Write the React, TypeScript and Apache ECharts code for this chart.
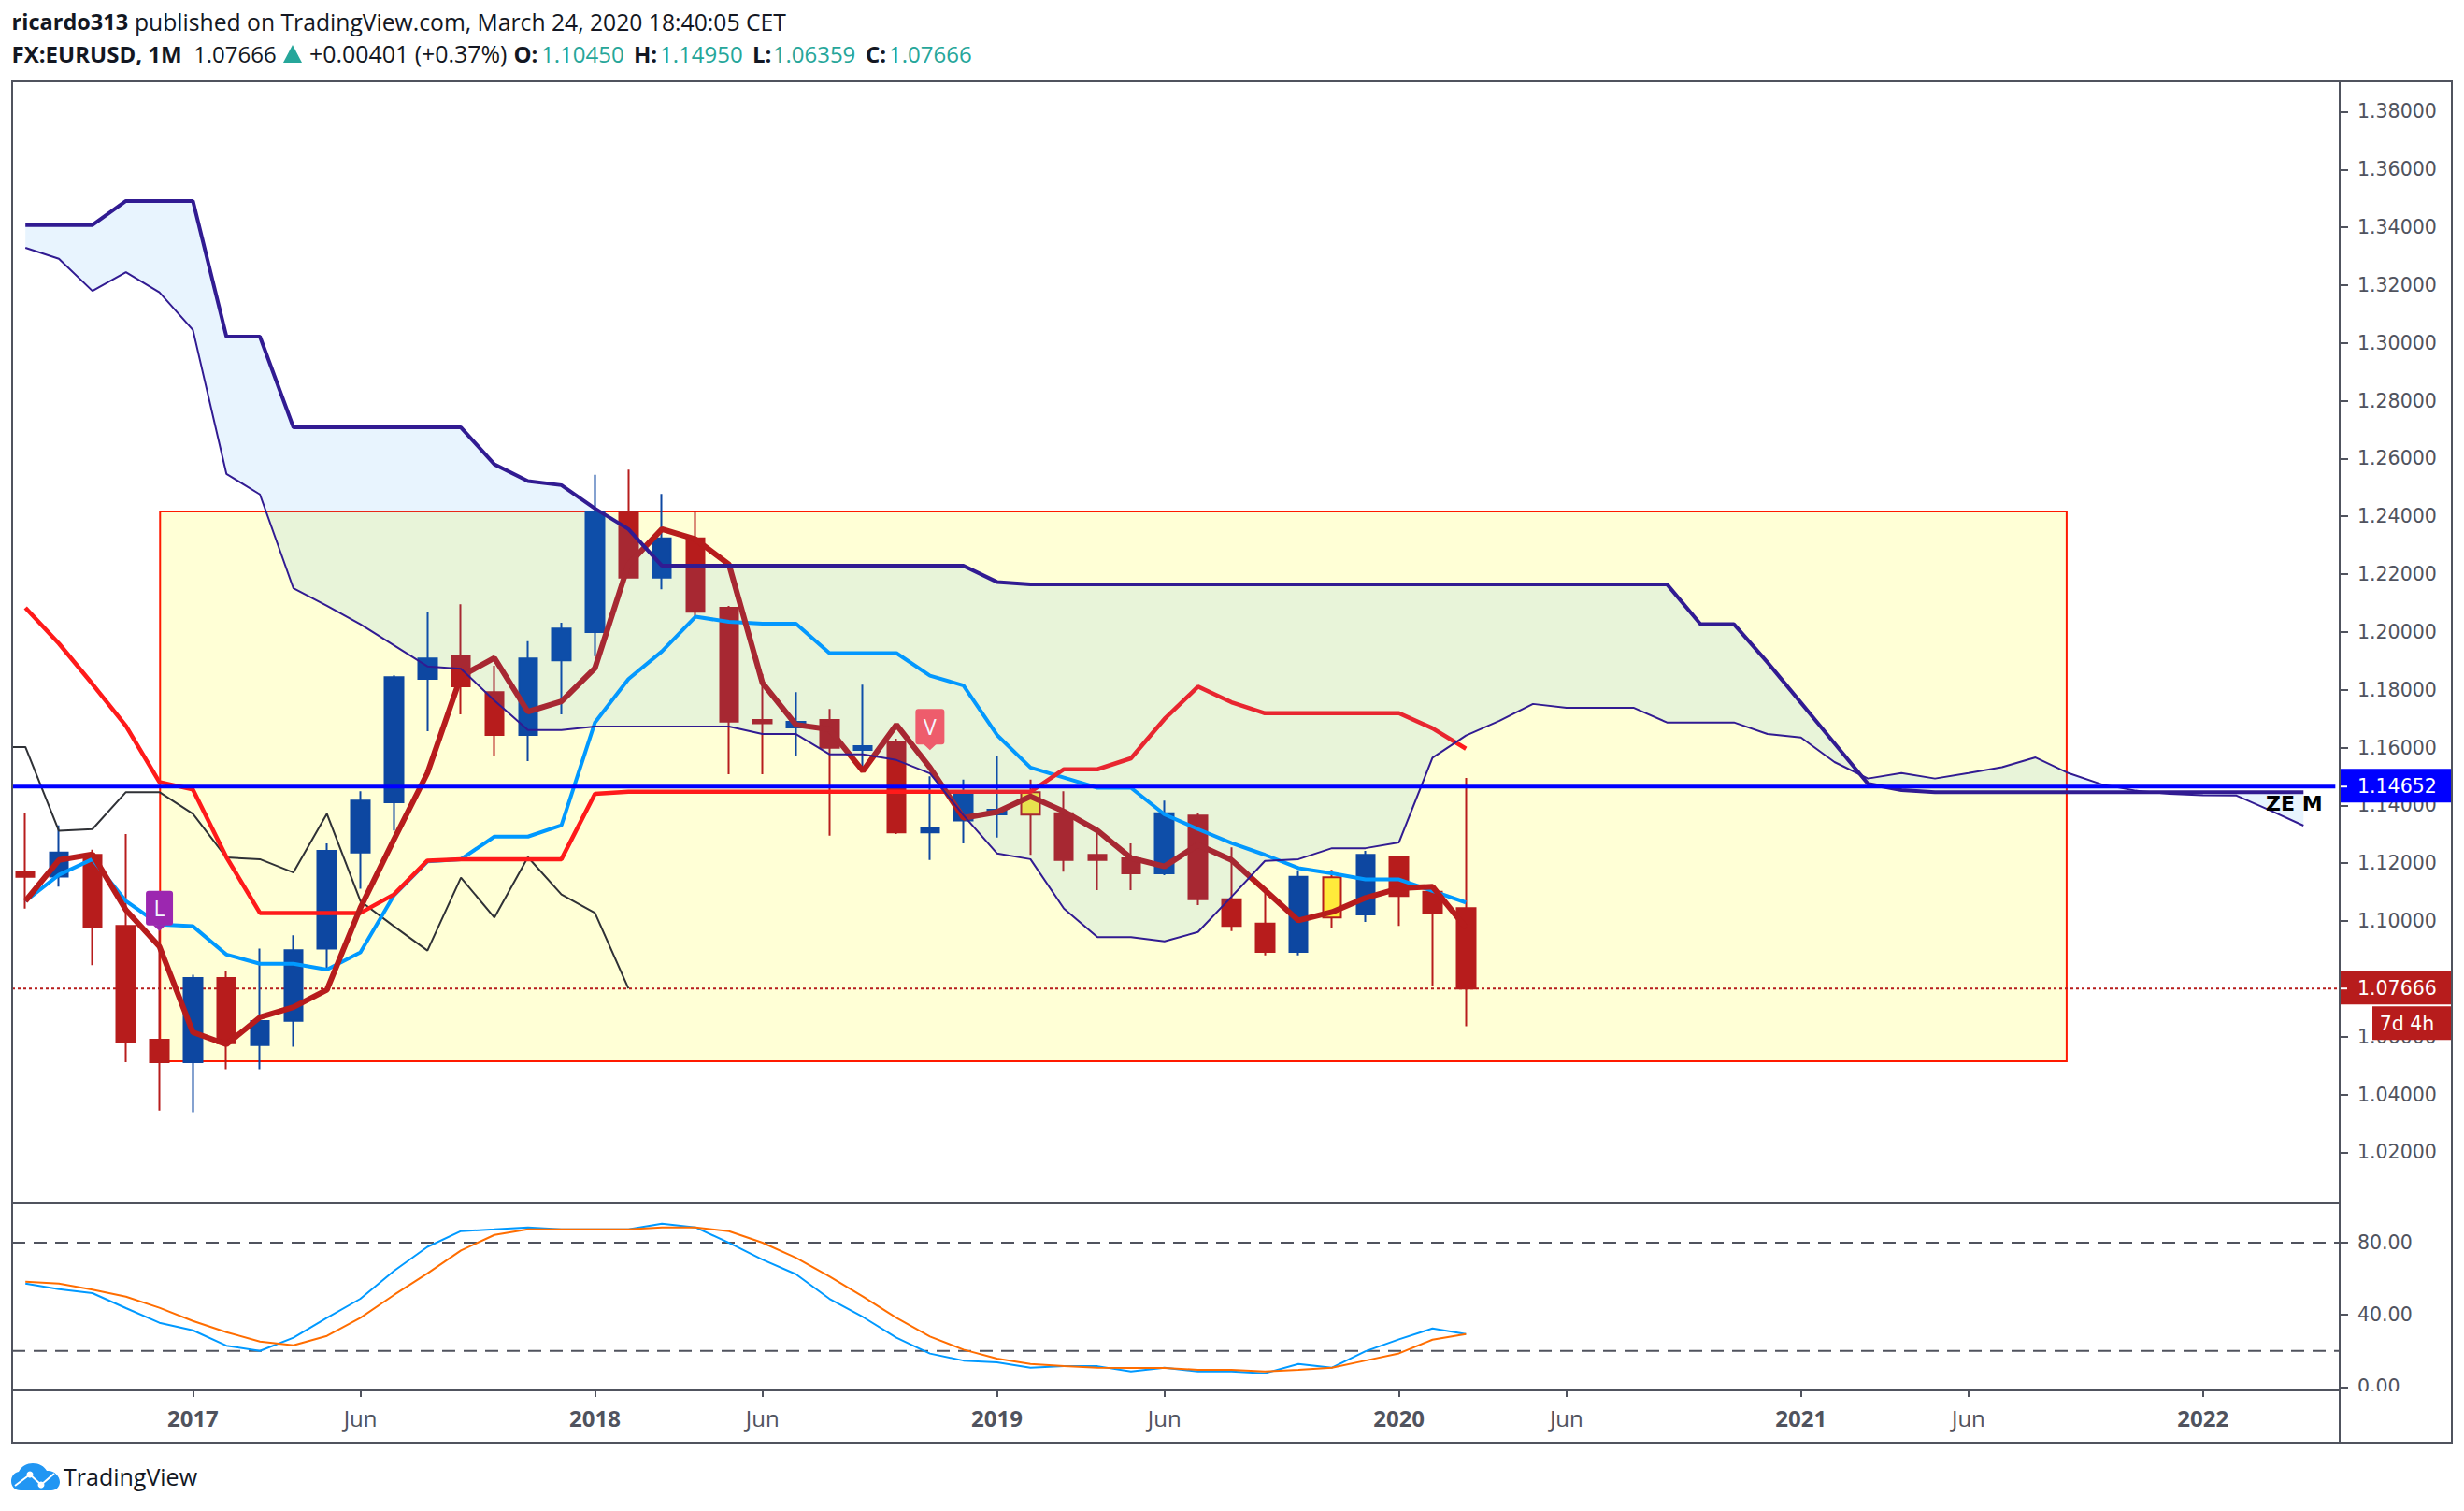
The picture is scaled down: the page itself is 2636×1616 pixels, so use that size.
import React, { useEffect, useRef } from "react";
import * as echarts from "echarts";

const opens = [1.1171,1.1154,1.1229,1.0983,1.0589,1.0512,1.0803,1.0571,1.0655,1.0905,1.1237,1.1411,1.1838,1.1916,1.1792,1.1644,1.1902,1.2000,1.2417,1.2188,1.2324,1.2084,1.1696,1.1670,1.1696,1.1592,1.1618,1.1307,1.1348,1.1369,1.1446,1.1373,1.1229,1.1217,1.1165,1.1365,1.1075,1.0991,1.0893,1.1151,1.1023,1.1223,1.1101,1.1045];
const closes = [1.1153,1.1237,1.0979,1.0583,1.0512,1.0803,1.0577,1.0654,1.0899,1.1243,1.1417,1.1844,1.1908,1.1812,1.1644,1.1908,1.2012,1.2417,1.2188,1.2324,1.2070,1.1690,1.1684,1.1689,1.1599,1.1605,1.1307,1.1321,1.1443,1.1385,1.1368,1.1211,1.1211,1.1165,1.1373,1.1075,1.0983,1.0893,1.1153,1.1012,1.1229,1.1087,1.1029,1.07666];
const lows = [1.1043,1.1119,1.0847,1.0512,1.0344,1.0339,1.0487,1.0487,1.0565,1.0835,1.1112,1.1313,1.1657,1.1715,1.1573,1.1553,1.1715,1.1916,1.2188,1.2148,1.2053,1.1508,1.1508,1.1573,1.1295,1.1534,1.1301,1.1211,1.1269,1.1289,1.1229,1.1171,1.1107,1.1107,1.1159,1.1055,1.0965,1.0881,1.0881,1.0977,1.0997,1.0983,1.0777,1.06359];
const highs = [1.1373,1.1331,1.1247,1.1301,1.0969,1.0814,1.0827,1.0905,1.0951,1.1269,1.1449,1.1850,1.2070,1.2096,1.1883,1.1968,1.2032,1.2544,1.2562,1.2478,1.2417,1.2090,1.1855,1.1792,1.1734,1.1818,1.1631,1.1501,1.1489,1.1573,1.1489,1.1449,1.1327,1.1269,1.1417,1.1373,1.1255,1.1099,1.1176,1.1177,1.1243,1.1223,1.1101,1.1495];
const highlighted = [30, 39];

const tenkanBlue = [1.1069,1.1160,1.1214,1.1069,1.0988,1.0982,1.0884,1.0852,1.0852,1.0832,1.0892,1.1089,1.1206,1.1214,1.1292,1.1292,1.1331,1.1687,1.1837,1.1933,1.2053,1.2035,1.2029,1.2029,1.1927,1.1927,1.1927,1.1849,1.1815,1.1644,1.1531,1.1496,1.1461,1.1461,1.1369,1.1318,1.1270,1.1229,1.1183,1.1165,1.1144,1.1144,1.1104,1.1064];
const kijunRed = [1.2084,1.1960,1.1820,1.1675,1.1481,1.1455,1.1221,1.1028,1.1028,1.1028,1.1028,1.1092,1.1209,1.1214,1.1214,1.1214,1.1214,1.1440,1.1447,1.1447,1.1447,1.1447,1.1447,1.1447,1.1447,1.1447,1.1447,1.1447,1.1447,1.1447,1.1447,1.1525,1.1525,1.1563,1.1699,1.1811,1.1757,1.1719,1.1719,1.1719,1.1719,1.1719,1.1667,1.1596];
const fastBrown = [1.1069,1.1211,1.1231,1.1038,1.0912,1.0615,1.0573,1.0667,1.0702,1.0762,1.1046,1.1282,1.1512,1.1847,1.1910,1.1724,1.1760,1.1875,1.2234,1.2356,1.2321,1.2234,1.1824,1.1679,1.1663,1.1519,1.1679,1.1531,1.1357,1.1377,1.1431,1.1379,1.1313,1.1218,1.1189,1.1264,1.1211,1.1107,1.1002,1.1031,1.1080,1.1113,1.1119,1.0977];
const senkouA = [1.3329,1.3291,1.3180,1.3245,1.3175,1.3045,1.2547,1.2476,1.2151,1.2091,1.2027,1.1954,1.1881,1.1873,1.1763,1.1661,1.1661,1.1673,1.1673,1.1673,1.1673,1.1673,1.1647,1.1647,1.1577,1.1577,1.1557,1.1511,1.1366,1.1234,1.1214,1.1043,1.0944,1.0944,1.0930,1.0962,1.1084,1.1208,1.1214,1.1252,1.1252,1.1272,1.1565,1.1642,1.1693,1.1751,1.1738,1.1738,1.1738,1.1687,1.1687,1.1687,1.1647,1.1635,1.1550,1.1493,1.1512,1.1493,1.1512,1.1532,1.1566,1.1511,1.1472,1.1451,1.1440,1.1435,1.1434,1.1383,1.1330];
const senkouB = [1.3408,1.3408,1.3408,1.3491,1.3491,1.3491,1.3022,1.3022,1.2708,1.2708,1.2708,1.2708,1.2708,1.2708,1.2580,1.2522,1.2508,1.2427,1.2356,1.2229,1.2229,1.2229,1.2229,1.2229,1.2229,1.2229,1.2229,1.2229,1.2229,1.2173,1.2165,1.2165,1.2165,1.2165,1.2165,1.2165,1.2165,1.2165,1.2165,1.2165,1.2165,1.2165,1.2165,1.2165,1.2165,1.2165,1.2165,1.2165,1.2165,1.2165,1.2027,1.2027,1.1895,1.1755,1.1615,1.1475,1.1453,1.1446,1.1446,1.1446,1.1446,1.1446,1.1446,1.1446,1.1446,1.1446,1.1446,1.1446,1.1446];
const chikou = [1.1602,1.1602,1.1312,1.1318,1.1446,1.1446,1.1371,1.1220,1.1214,1.1168,1.1371,1.1069,1.0982,1.0898,1.1150,1.1012,1.1221,1.1092,1.1028,1.0767];
const stochK = [57.3,54.2,52,43.7,35.6,31.4,22.9,20,27.3,38.3,48.9,64.3,77.7,86.4,87.4,88.5,87.4,87.4,87.4,90.5,88.5,80,70.6,62.5,48.9,38.8,27.3,18.5,14.6,13.6,10.7,11.5,11.5,8.6,10.7,8.6,8.6,7.6,12.7,10.7,19.8,26.4,32.4,29.3];
const stochD = [58.4,57.3,54,50.1,43.9,36.6,30.4,25.2,23.1,28.3,38.3,51,63,75.7,84.3,87.4,87.4,87.4,87.4,88.5,88.5,86.4,80,71.7,61.3,50.1,38.3,28,20.7,15.7,12.7,11.5,10.7,10.5,10.5,9.5,9.5,8.6,9.5,10.7,14.6,18.6,26.2,29.3];

const priceTicks = [1.02,1.04,1.06,1.08,1.10,1.12,1.14,1.16,1.18,1.20,1.22,1.24,1.26,1.28,1.30,1.32,1.34,1.36,1.38];
const stochTicks = [0, 40, 80];
const stochBands = [80, 20];
const timeTickIdx = [5,10,17,22,29,34,41,46,53,58,65];
const timeTickText = ["2017","Jun","2018","Jun","2019","Jun","2020","Jun","2021","Jun","2022"];

const lastClose = 1.07666;
const levelLine = 1.14652;
const zoneBox = [4.02, 1.2417, 60.93, 1.0515];
const signalIdx = [4, 27];
const signalPrice = [1.0965, 1.1591];
const signalText = ["L", "V"];
const signalColor = ["#9c27b0", "#ee5c6c"];
const tagPrices = [levelLine, lastClose];
const tagTexts = ["1.14652", "1.07666"];
const tagColors = ["#0000ff", "#b71c1c"];

const X_MIN = -0.396;
const X_MAX = 69.08;
const BLUE = "#0d47a1";
const RED = "#b71c1c";
const YELLOW = "#ffeb3b";
const AXIS = "#50535e";
const INK = "#131722";
const GREEN = "#26a69a";
const AXIS_FONT = '20.5px "DejaVu Sans"';
const HEAD = '"Open Sans"';

echarts.graphic.registerShape(
  "tvCloud",
  echarts.graphic.extendPath(
    "M22 1594 C16 1594 12 1590 12 1584 C12 1579 15 1575 20 1574 C23 1568 29 1565 35 1565 C42 1565 47 1568 50 1573 C57 1572 64 1578 64 1585 C64 1590 60 1594 55 1594 Z",
    {}
  )
);

const indexed = (vals: number[], start = 0) => vals.map((v, i) => [i + start, v]);

const lineSeries = (name: string, data: number[][], color: string, width: number, z: number, extra: any = {}) => ({
  name,
  type: "line",
  data,
  showSymbol: false,
  symbol: "none",
  z,
  lineStyle: { color, width, ...(extra.lineStyle || {}) },
  xAxisIndex: extra.pane || 0,
  yAxisIndex: extra.pane || 0,
  silent: true,
});

const headText = (text: string, x: number, y: number, fill: string, weight = "normal", size = 24) => ({
  type: "text",
  x,
  y,
  z: 100,
  style: { text, fill, font: `${weight} ${size}px ${HEAD}`, align: "left", verticalAlign: "middle" },
});

export default function App() {
  const ref = useRef<HTMLDivElement>(null);
  useEffect(() => {
    const chart = echarts.init(ref.current!, undefined, { renderer: "svg", width: 2636, height: 1616 });
    const candleData = opens.map((o, i) => {
      const up = closes[i] > o;
      const edge = highlighted.includes(i) ? RED : up ? BLUE : RED;
      const fill = highlighted.includes(i) ? YELLOW : edge;
      return {
        value: [i, o, closes[i], lows[i], highs[i]],
        itemStyle: { color: fill, color0: fill, borderColor: edge, borderColor0: edge, borderColorDoji: edge },
      };
    });
    const option: any = {
      animation: false,
      backgroundColor: "#ffffff",
      grid: [
        { left: 13, top: 87, width: 2490, height: 1200, show: false },
        { left: 13, top: 1287, width: 2490, height: 200, show: false },
      ],
      xAxis: [
        {
          type: "value", gridIndex: 0, min: X_MIN, max: X_MAX, show: true, position: "bottom",
          axisLine: { show: true, onZero: false, lineStyle: { color: AXIS, width: 2 } },
          axisTick: { show: false }, axisLabel: { show: false }, splitLine: { show: false },
        },
        {
          type: "value", gridIndex: 1, min: X_MIN, max: X_MAX, position: "bottom",
          axisLine: { show: true, onZero: false, lineStyle: { color: AXIS, width: 2 } },
          axisTick: { show: true, length: 7, customValues: timeTickIdx, lineStyle: { color: AXIS, width: 2 } },
          splitLine: { show: false },
          axisLabel: {
            show: true,
            customValues: timeTickIdx,
            margin: 17,
            color: AXIS,
            fontFamily: "Open Sans",
            fontSize: 24,
            formatter: (v: number) => {
              const t = timeTickText[timeTickIdx.indexOf(Math.round(v))] || "";
              return t === "Jun" ? `{m|${t}}` : `{y|${t}}`;
            },
            rich: {
              y: { fontFamily: "Open Sans", fontSize: 24, fontWeight: "bold", color: AXIS },
              m: { fontFamily: "Open Sans", fontSize: 24, color: AXIS },
            },
          },
        },
      ],
      yAxis: [
        {
          type: "value", gridIndex: 0, position: "right", scale: true, min: 1.00232, max: 1.3905,
          axisLine: { show: true, onZero: false, lineStyle: { color: AXIS, width: 2 } },
          axisTick: { show: true, length: 9, customValues: priceTicks, lineStyle: { color: AXIS, width: 2 } },
          splitLine: { show: false },
          axisLabel: {
            show: true, customValues: priceTicks, margin: 19, color: AXIS,
            fontFamily: "DejaVu Sans", fontSize: 20.5, padding: [3, 0, 0, 0],
            formatter: (v: number) => v.toFixed(5),
          },
        },
        {
          type: "value", gridIndex: 1, position: "right", scale: true, min: -1.92, max: 101.8,
          axisLine: { show: true, onZero: false, lineStyle: { color: AXIS, width: 2 } },
          axisTick: { show: true, length: 9, customValues: stochTicks, lineStyle: { color: AXIS, width: 2 } },
          splitLine: { show: false },
          axisLabel: {
            show: true, customValues: stochTicks, margin: 19, color: AXIS,
            fontFamily: "DejaVu Sans", fontSize: 20.5, padding: [3, 0, 0, 0],
            formatter: (v: number) => v.toFixed(2),
          },
        },
      ],
      series: [
        {
          name: "Zone",
          type: "custom",
          xAxisIndex: 0, yAxisIndex: 0, z: 1, silent: true,
          data: [zoneBox],
          encode: { x: [0, 2], y: [1, 3] },
          renderItem: (_: any, api: any) => {
            const a = api.coord([api.value(0), api.value(1)]);
            const b = api.coord([api.value(2), api.value(3)]);
            return {
              type: "rect",
              shape: { x: a[0], y: a[1], width: b[0] - a[0], height: b[1] - a[1] },
              style: { fill: "#ffffd6", stroke: "#ff1a00", lineWidth: 2 },
            };
          },
        },
        lineSeries("Last close", [[X_MIN, lastClose], [69, lastClose]], RED, 2, 2, { lineStyle: { type: [3, 3] } }),
        {
          name: "EURUSD",
          type: "candlestick",
          xAxisIndex: 0, yAxisIndex: 0, z: 3, silent: true,
          barWidth: 20,
          encode: { x: 0, y: [1, 2, 3, 4] },
          itemStyle: { color: BLUE, color0: RED, borderColor: BLUE, borderColor0: RED, borderWidth: 2 },
          data: candleData,
        },
        lineSeries("Chikou", indexed(chikou, -1), "#2f3136", 2, 4),
        lineSeries("Tenkan", indexed(tenkanBlue), "#0099ff", 4, 4),
        lineSeries("Kijun", indexed(kijunRed), "#ff1a1a", 4.5, 4),
        lineSeries("Fast", indexed(fastBrown), RED, 6, 5),
        {
          name: "Cloud",
          type: "custom",
          xAxisIndex: 0, yAxisIndex: 0, z: 6, silent: true,
          data: senkouA.map((a, i) => [i, a, senkouB[i]]),
          encode: { x: 0, y: [1, 2] },
          renderItem: (params: any, api: any) => {
            if (params.dataIndex !== 0) return null;
            const pts = [
              ...senkouA.map((v, i) => api.coord([i, v])),
              ...senkouB.map((v, i) => api.coord([i, v])).reverse(),
            ];
            return { type: "polygon", shape: { points: pts }, style: { fill: "rgba(33,150,243,0.1)" } };
          },
        },
        lineSeries("Senkou A", indexed(senkouA), "#311b92", 2, 7),
        lineSeries("Senkou B", indexed(senkouB), "#311b92", 4, 7),
        lineSeries("Level", [[X_MIN, levelLine], [68.95, levelLine]], "#0000ff", 4, 8),
        {
          name: "Signals",
          type: "custom",
          xAxisIndex: 0, yAxisIndex: 0, z: 9, silent: true,
          data: signalIdx.map((x, i) => [x, signalPrice[i], i]),
          encode: { x: 0, y: 1 },
          renderItem: (_: any, api: any) => {
            const i = api.value(2);
            const [cx, tip] = api.coord([api.value(0), api.value(1)]);
            const fill = signalColor[i];
            const w = i === 0 ? 29 : 31;
            const h = i === 0 ? 37 : 38;
            const top = tip - 6 - h;
            return {
              type: "group",
              children: [
                { type: "rect", shape: { x: cx - w / 2, y: top, width: w, height: h, r: 3 }, style: { fill } },
                { type: "polygon", shape: { points: [[cx - 7, tip - 6.5], [cx + 7, tip - 6.5], [cx, tip]] }, style: { fill } },
                {
                  type: "text", x: cx, y: top + h / 2,
                  style: { text: signalText[i], fill: "#f4f6ff", font: '23px "Open Sans"', align: "center", verticalAlign: "middle" },
                },
              ],
            };
          },
        },
        {
          name: "Tags",
          type: "custom",
          xAxisIndex: 0, yAxisIndex: 0, z: 20, silent: true,
          data: tagPrices.map((p, i) => [0, p, i]),
          encode: { y: 1 },
          renderItem: (params: any, api: any) => {
            const i = api.value(2);
            const y = api.coord([0, api.value(1)])[1];
            const x = params.coordSys.x + params.coordSys.width;
            const children: any[] = [
              { type: "rect", shape: { x: x - 1, y: y - 19, width: 121, height: 36 }, style: { fill: tagColors[i] } },
              { type: "rect", shape: { x: x, y: y - 1, width: 8, height: 2 }, style: { fill: "#ffffff" } },
              {
                type: "text", x: x + 19, y: y,
                style: { text: tagTexts[i], fill: "#ffffff", font: AXIS_FONT, align: "left", verticalAlign: "middle" },
              },
            ];
            if (i === 1) {
              children.push(
                { type: "rect", shape: { x: x + 35, y: y + 19, width: 85, height: 36 }, style: { fill: RED } },
                {
                  type: "text", x: x + 72, y: y + 38,
                  style: { text: "7d 4h", fill: "#ffffff", font: AXIS_FONT, align: "center", verticalAlign: "middle" },
                }
              );
            }
            return { type: "group", children };
          },
        },
        lineSeries("Band 80", [[X_MIN, stochBands[0]], [X_MAX, stochBands[0]]], AXIS, 2, 2, { pane: 1, lineStyle: { type: [14, 9] } }),
        lineSeries("Band 20", [[X_MIN, stochBands[1]], [X_MAX, stochBands[1]]], AXIS, 2, 2, { pane: 1, lineStyle: { type: [14, 9] } }),
        lineSeries("Stoch K", indexed(stochK), "#0099ff", 2, 3, { pane: 1 }),
        lineSeries("Stoch D", indexed(stochD), "#ff6d00", 2, 4, { pane: 1 }),
      ],
      graphic: [
        { type: "rect", z: 50, shape: { x: 2505, y: 1488, width: 116, height: 10 }, style: { fill: "#ffffff" } },
        { type: "rect", z: 60, shape: { x: 13, y: 87, width: 2610, height: 1456 }, style: { fill: "none", stroke: AXIS, lineWidth: 2 } },
        { type: "line", z: 60, shape: { x1: 2503, y1: 87, x2: 2503, y2: 1543 }, style: { stroke: AXIS, lineWidth: 2 } },
        headText("ricardo313", 12.6, 23, INK, "bold", 23.5),
        headText("published on TradingView.com, March 24, 2020 18:40:05 CET", 144, 23, INK, "normal", 24.7),
        headText("FX:EURUSD, 1M", 12.6, 57, INK, "bold"),
        headText("1.07666", 207, 57, INK),
        { type: "polygon", z: 100, shape: { points: [[303, 67], [323, 67], [313, 48]] }, style: { fill: GREEN } },
        headText("+0.00401 (+0.37%)", 331, 57, INK, "normal", 24.9),
        headText("O:", 549.5, 57, INK, "bold"),
        headText("1.10450", 579, 57, GREEN),
        headText("H:", 678, 57, INK, "bold"),
        headText("1.14950", 706, 57, GREEN),
        headText("L:", 805, 57, INK, "bold"),
        headText("1.06359", 826.7, 57, GREEN),
        headText("C:", 926, 57, INK, "bold"),
        headText("1.07666", 951, 57, GREEN),
        {
          type: "text", x: 2424, y: 859, z: 100,
          style: { text: "ZE M", fill: "#000000", font: 'bold 22px "DejaVu Sans"', align: "left", verticalAlign: "middle" },
        },
        { type: "tvCloud", z: 100, x: 0, y: 0, style: { fill: "#2196f3" } },
        { type: "polyline", z: 101, shape: { points: [[16, 1589], [32, 1577], [44, 1588], [58, 1576]] }, style: { fill: "none", stroke: "#ffffff", lineWidth: 2 } },
        { type: "circle", z: 102, shape: { cx: 32, cy: 1577, r: 3.5 }, style: { fill: "#ffffff" } },
        { type: "circle", z: 102, shape: { cx: 44, cy: 1588, r: 3.5 }, style: { fill: "#ffffff" } },
        {
          type: "text", x: 68, y: 1579, z: 100,
          style: { text: "TradingView", fill: INK, font: '25px "Open Sans"', align: "left", verticalAlign: "middle" },
        },
      ],
    };
    chart.setOption(option);
    return () => chart.dispose();
  }, []);
  return <div ref={ref} style={{ position: "fixed", left: 0, top: 0, width: 2636, height: 1616 }} />;
}
